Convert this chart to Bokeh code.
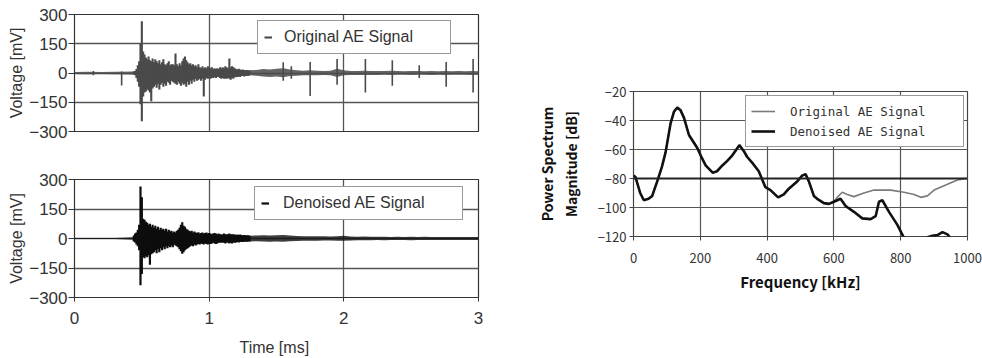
import numpy as np
from bokeh.plotting import figure
from bokeh.layouts import row, column
from bokeh.models import Range1d, FixedTicker, Legend, LegendItem, Span
from bokeh.embed import file_html
from bokeh.resources import INLINE

FONT = "Liberation Sans"
CJK = "Noto Sans CJK JP"
MONO = "DejaVu Sans Mono"

# ---------------- data: time signals ----------------
time_ticks = [0, 1, 2, 3]
volt_ticks = [-300, -150, 0, 150, 300]
volt_tick_labels = ["\u2212300", "\u2212150", "0", "150", "300"]

# dense burst section, sampled every 0.01 ms starting at 0.44 ms
burst_start = 0.44
burst_step = 0.01
orig_burst_hi = [8, 10, 20, 40, 60, 150, 265, 110, 95, 80, 70, 85, 65, 60, 75, 55, 70, 60, 50, 65,
                 45, 55, 70, 45, 40, 50, 60, 40, 45, 45, 40, 100, 45, 35, 50, 40, 60, 75, 85, 65,
                 55, 45, 50, 40, 45, 35, 40, 30, 45, 30, 25, 35, 25, 30, 25, 35, 30, 25, 30, 20,
                 25, 20, 25, 20, 30, 25, 30, 25, 35, 30, 25, 75, 30, 35, 30, 25, 20, 18, 22, 18,
                 15, 18, 15, 14, 16, 12, 14]
orig_burst_lo = [-8, -12, -25, -45, -70, -160, -248, -120, -100, -95, -85, -90, -100, -145, -80, -70, -60, -75, -55, -85,
                 -60, -50, -70, -55, -65, -45, -50, -60, -40, -45, -50, -55, -60, -45, -55, -65, -50, -60, -55, -70,
                 -45, -60, -40, -55, -35, -45, -30, -40, -35, -30, -40, -30, -120, -35, -25, -30, -25, -30, -25, -25,
                 -20, -25, -20, -20, -25, -30, -25, -30, -28, -30, -25, -30, -35, -25, -30, -20, -22, -20, -18, -20,
                 -15, -16, -18, -15, -14, -15, -12]
den_burst_hi = [15, 25, 30, 45, 70, 265, 210, 100, 95, 85, 80, 70, 75, 60, 70, 55, 65, 50, 60, 45,
                55, 45, 50, 40, 50, 35, 45, 35, 40, 30, 35, 30, 40, 45, 55, 70, 83, 65, 60, 50,
                45, 40, 35, 40, 30, 35, 30, 28, 32, 25, 28, 30, 25, 28, 30, 25, 28, 25, 22, 25,
                28, 25, 22, 25, 22, 20, 22, 25, 22, 20, 22, 25, 22, 20, 22, 20, 18, 20, 18, 20,
                18, 16, 18, 16, 15, 16, 14]
den_burst_lo = [-15, -20, -30, -40, -60, -238, -180, -95, -100, -90, -95, -85, -133, -80, -75, -70, -60, -75, -55, -70,
                -50, -60, -45, -55, -40, -50, -40, -45, -35, -45, -30, -35, -40, -45, -55, -65, -77, -70, -60, -55,
                -50, -45, -40, -35, -40, -30, -35, -30, -28, -30, -25, -28, -30, -25, -28, -30, -25, -28, -25, -22,
                -25, -28, -25, -22, -20, -22, -20, -22, -25, -22, -20, -25, -22, -25, -20, -22, -20, -18, -20, -18,
                -16, -18, -16, -15, -16, -14, -15]

# low-level noise band (envelope) over the whole record
band_t = [0.0, 0.1, 0.2, 0.3, 0.44, 1.30, 1.35, 1.40, 1.45, 1.50, 1.55, 1.60, 1.65, 1.70, 1.75, 1.80, 1.85,
          1.90, 1.95, 2.00, 2.05, 2.10, 2.15, 2.20, 2.25, 2.30, 2.35, 2.40, 2.45, 2.50, 2.55, 2.60,
          2.65, 2.70, 2.75, 2.80, 2.85, 2.90, 2.95, 3.00]
orig_band_hi = [5, 6, 5, 6, 8, 14, 16, 20, 18, 22, 25, 18, 14, 12, 14, 12, 10,
                12, 22, 14, 10, 10, 12, 10, 10, 10, 12, 10, 9, 10, 10, 9,
                10, 9, 10, 9, 10, 9, 10, 9]
orig_band_lo = [-5, -6, -5, -6, -8, -12, -14, -18, -20, -18, -22, -16, -14, -12, -12, -12, -10,
                -12, -20, -12, -10, -10, -10, -10, -10, -9, -10, -9, -9, -10, -9, -9,
                -10, -9, -10, -9, -9, -9, -10, -9]
den_band_hi = [3, 3, 3, 3, 6, 14, 15, 16, 15, 16, 18, 15, 13, 12, 12, 11, 11,
               10, 12, 14, 10, 9, 10, 9, 9, 9, 8, 9, 8, 9, 8, 9,
               8, 8, 8, 8, 8, 8, 8, 8]
den_band_lo = [-3, -3, -3, -3, -6, -15, -14, -15, -16, -15, -17, -14, -13, -12, -11, -11, -10,
               -10, -12, -12, -10, -9, -9, -9, -8, -9, -8, -8, -8, -9, -8, -8,
               -8, -8, -8, -8, -8, -8, -8, -8]

# isolated noise spikes in the original record
orig_spike_t = [0.14, 0.35, 1.55, 1.61, 1.75, 1.95, 2.16, 2.36, 2.56, 2.76, 2.96]
orig_spike_hi = [10, 8, 55, 35, 56, 72, 72, 66, 40, 56, 72]
orig_spike_lo = [-12, -64, -40, -30, -118, -60, -100, -66, -25, -70, -100]

# ---------------- data: spectrum ----------------
freq_ticks = [0, 200, 400, 600, 800, 1000]
db_ticks = [-120, -100, -80, -60, -40, -20]
axis_cross_db = -80

den_f = [0, 6, 20, 31, 45, 56, 71, 85, 96, 111, 121, 131, 141, 151, 166, 180, 191, 205, 216, 237,
         250, 266, 280, 296, 317, 330, 340, 355, 375, 395, 410, 433, 450, 465, 490, 505, 515, 525,
         540, 550, 570, 585, 600, 620, 635, 660, 685, 710, 725, 735, 745, 765, 790, 810, 830, 850,
         870, 880, 895, 910, 925, 940, 955, 970, 1000]
den_db = [-78, -79, -90, -95, -94, -92, -82, -72, -62, -42, -34, -31, -33, -38, -50, -55, -59, -66, -71, -76,
          -75, -71, -68, -64, -57, -61, -65, -69, -75, -86, -88, -93, -91, -87, -82, -78, -77, -82,
          -92, -94, -97, -97.5, -96, -94, -99, -103, -107.5, -108, -106, -96, -95, -103, -112, -121, -128, -130,
          -124, -120.5, -119.5, -119, -117, -118.5, -123, -130, -135]
orig_f = [0, 6, 20, 31, 45, 56, 71, 85, 96, 111, 121, 131, 141, 151, 166, 180, 191, 205, 216, 237,
          250, 266, 280, 296, 317, 330, 340, 355, 375, 395, 410, 433, 450, 465, 490, 505, 515, 525,
          540, 550, 570, 585, 600, 610, 625, 640, 660, 690, 720, 770, 810, 840, 860, 880, 900, 940,
          970, 1000]
orig_db = [-78, -79, -90, -95, -94, -92, -82, -72, -62, -42, -34, -31, -33, -38, -50, -55, -59, -66, -71, -76,
           -75, -71, -68, -64, -57, -61, -65, -69, -75, -86, -88, -93, -91, -87, -82, -78, -77, -82,
           -92, -94, -97, -97.5, -96, -93, -89.5, -91, -92.5, -90, -88, -88, -89.5, -91, -93, -92, -88, -84,
           -81, -80]

ORIG_COL = "#4a4a4a"
DEN_COL = "#0d0d0d"
GRID_COL = "#555555"
TXT_COL = "#333333"


def style_time(p, show_x):
    p.outline_line_color = "#333333"
    p.outline_line_width = 1.2
    p.background_fill_color = "white"
    p.border_fill_color = "white"
    for ax in p.yaxis:
        ax.ticker = FixedTicker(ticks=volt_ticks)
        ax.major_label_overrides = {k: v for k, v in zip(volt_ticks, volt_tick_labels)}
        ax.axis_line_color = None
        ax.major_tick_out = 6
        ax.major_tick_in = 0
        ax.major_tick_line_color = "#333333"
        ax.minor_tick_line_color = None
        ax.major_label_standoff = 1
        ax.major_label_text_font = FONT
        ax.major_label_text_font_size = "17px"
        ax.major_label_text_color = TXT_COL
        ax.axis_label = "Voltage [mV]"
        ax.axis_label_text_font = FONT
        ax.axis_label_text_font_size = "16px"
        ax.axis_label_text_font_style = "normal"
        ax.axis_label_text_color = TXT_COL
        ax.axis_label_standoff = 1
    for ax in p.xaxis:
        ax.ticker = FixedTicker(ticks=time_ticks)
        ax.axis_line_color = None
        ax.minor_tick_line_color = None
        if show_x:
            ax.major_tick_out = 4
            ax.major_tick_in = 0
            ax.major_tick_line_color = "#333333"
            ax.major_label_standoff = 10
            ax.major_label_text_font = FONT
            ax.major_label_text_font_size = "17px"
            ax.major_label_text_color = TXT_COL
            ax.axis_label = "Time  [ms]"
            ax.axis_label_text_font = FONT
            ax.axis_label_text_font_size = "16px"
            ax.axis_label_text_font_style = "normal"
            ax.axis_label_text_color = TXT_COL
            ax.axis_label_standoff = 12
        else:
            ax.visible = False
    p.xgrid.ticker = FixedTicker(ticks=time_ticks)
    p.ygrid.ticker = FixedTicker(ticks=volt_ticks)
    for g in (p.xgrid, p.ygrid):
        g.grid_line_color = GRID_COL
        g.grid_line_width = 1.3


def style_legend(leg, font, size, label_width, glyph_width, standoff, padding):
    leg.glyph_width = glyph_width
    leg.glyph_height = 20
    leg.label_height = 20
    leg.label_width = label_width
    leg.label_standoff = standoff
    leg.padding = padding
    leg.spacing = 0
    leg.margin = 0
    leg.label_text_font = font
    leg.label_text_font_size = size
    leg.label_text_color = TXT_COL
    leg.border_line_color = "#333333"
    leg.border_line_width = 1.2
    leg.background_fill_alpha = 1


burst_t = np.round(burst_start + burst_step * np.arange(len(orig_burst_hi)), 3)

# ---- top: original signal ----
p1 = figure(frame_width=404, frame_height=117, min_border_left=74, min_border_right=12,
            min_border_top=14, min_border_bottom=34, x_range=Range1d(0, 3), y_range=Range1d(-300, 300),
            output_backend="svg", toolbar_location=None)
style_time(p1, False)
p1.varea(x=band_t, y1=orig_band_lo, y2=orig_band_hi, fill_color=ORIG_COL, fill_alpha=0.85)
r1 = p1.segment(x0=burst_t, y0=orig_burst_lo, x1=burst_t, y1=orig_burst_hi, line_color=ORIG_COL, line_width=2.1)
p1.segment(x0=orig_spike_t, y0=orig_spike_lo, x1=orig_spike_t, y1=orig_spike_hi, line_color=ORIG_COL, line_width=1.6)
leg1 = Legend(items=[LegendItem(label="Original AE Signal", renderers=[r1])], location=(183, 77),
              orientation="vertical")
style_legend(leg1, FONT, "16px", 160, 8, 12, 6)
p1.add_layout(leg1, "center")

# ---- bottom: denoised signal ----
p2 = figure(frame_width=404, frame_height=118, min_border_left=74, min_border_right=12,
            min_border_top=14, min_border_bottom=61, x_range=Range1d(0, 3), y_range=Range1d(-300, 300),
            output_backend="svg", toolbar_location=None)
style_time(p2, True)
p2.varea(x=band_t, y1=den_band_lo, y2=den_band_hi, fill_color=DEN_COL, fill_alpha=0.8)
r2 = p2.segment(x0=burst_t, y0=den_burst_lo, x1=burst_t, y1=den_burst_hi, line_color=DEN_COL, line_width=2.2)
leg2 = Legend(items=[LegendItem(label="Denoised AE Signal", renderers=[r2])], location=(180, 77),
              orientation="vertical")
style_legend(leg2, FONT, "16px", 173, 8, 14, 6)
p2.add_layout(leg2, "center")

# ---- right: spectrum ----
p3 = figure(frame_width=334, frame_height=145, min_border_left=143, min_border_right=15,
            min_border_top=91, min_border_bottom=122, x_range=Range1d(0, 1000), y_range=Range1d(-120, -20),
            output_backend="svg", toolbar_location=None)
p3.outline_line_color = "#444444"
p3.outline_line_width = 1.2
p3.xaxis.ticker = FixedTicker(ticks=freq_ticks)
p3.yaxis.ticker = FixedTicker(ticks=db_ticks)
p3.xgrid.ticker = FixedTicker(ticks=freq_ticks)
p3.ygrid.ticker = FixedTicker(ticks=db_ticks)
for g in (p3.xgrid, p3.ygrid):
    g.grid_line_color = GRID_COL
    g.grid_line_width = 1.2
for ax in (p3.xaxis[0], p3.yaxis[0]):
    ax.axis_line_color = None
    ax.minor_tick_line_color = None
    ax.major_tick_out = 4
    ax.major_tick_in = 0
    ax.major_tick_line_color = "#444444"
    ax.major_label_text_font = CJK
    ax.major_label_text_font_size = "13px"
    ax.major_label_text_color = TXT_COL
    ax.axis_label_text_font = CJK
    ax.axis_label_text_font_style = "bold"
    ax.axis_label_text_color = "#111111"
p3.xaxis.major_label_standoff = 12
p3.yaxis.major_label_standoff = 3
p3.xaxis.axis_label = "Frequency [kHz]"
p3.xaxis.axis_label_text_font_size = "15px"
p3.xaxis.axis_label_standoff = 5
p3.yaxis.axis_label = "Power Spectrum\nMagnitude [dB]"
p3.yaxis.axis_label_text_font_size = "14px"
p3.yaxis.axis_label_standoff = 14
p3.add_layout(Span(location=axis_cross_db, dimension="width", line_color="#222222", line_width=2))
ro = p3.line(orig_f, orig_db, line_color="#7a7a7a", line_width=1.6)
rd = p3.line(den_f, den_db, line_color="#111111", line_width=2.6)
leg3 = Legend(items=[LegendItem(label="Original AE Signal", renderers=[ro]),
                     LegendItem(label="Denoised AE Signal", renderers=[rd])],
              location=(112, 89), orientation="vertical")
style_legend(leg3, MONO, "12.5px", 168, 24, 15, 5)
p3.add_layout(leg3, "center")

layout = row(column(p1, p2), p3)
open("out.html", "w").write(file_html(layout, INLINE))
